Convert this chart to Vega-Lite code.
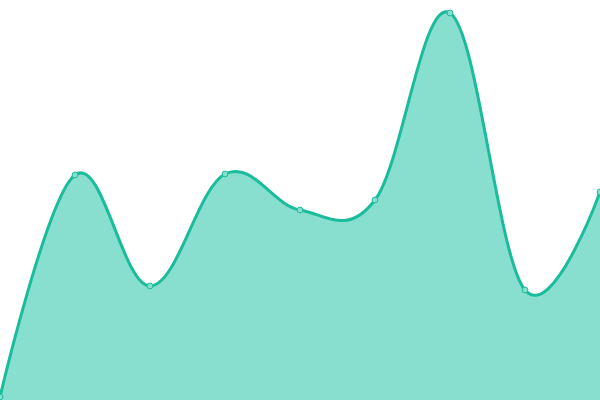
{
  "$schema": "https://vega.github.io/schema/vega-lite/v6.json",
  "autosize": {"type": "none"},
  "width": 600,
  "height": 400,
  "padding": 0,
  "background": "white",
  "config": {"view": {"stroke": null}},
  "data": {"values": [
    {"i": 0, "v": 3},
    {"i": 1, "v": 225},
    {"i": 2, "v": 114},
    {"i": 3, "v": 226},
    {"i": 4, "v": 190},
    {"i": 5, "v": 200},
    {"i": 6, "v": 387},
    {"i": 7, "v": 110},
    {"i": 8, "v": 208}
  ]},
  "encoding": {
    "x": {"field": "i", "type": "quantitative", "scale": {"domain": [0, 8], "nice": false, "zero": false}, "axis": null},
    "y": {"field": "v", "type": "quantitative", "scale": {"domain": [0, 400], "nice": false}, "axis": null}
  },
  "layer": [
    {"mark": {"type": "area", "interpolate": "cardinal", "tension": -0.1, "color": "#88dfcf", "fillOpacity": 1, "clip": true}},
    {"mark": {"type": "line", "interpolate": "cardinal", "tension": -0.1, "color": "#1abc9c", "strokeWidth": 3, "clip": true}},
    {"mark": {"type": "point", "filled": false, "fill": "#88dfcf", "stroke": "#1abc9c", "strokeWidth": 1, "size": 34, "opacity": 1}}
  ]
}
